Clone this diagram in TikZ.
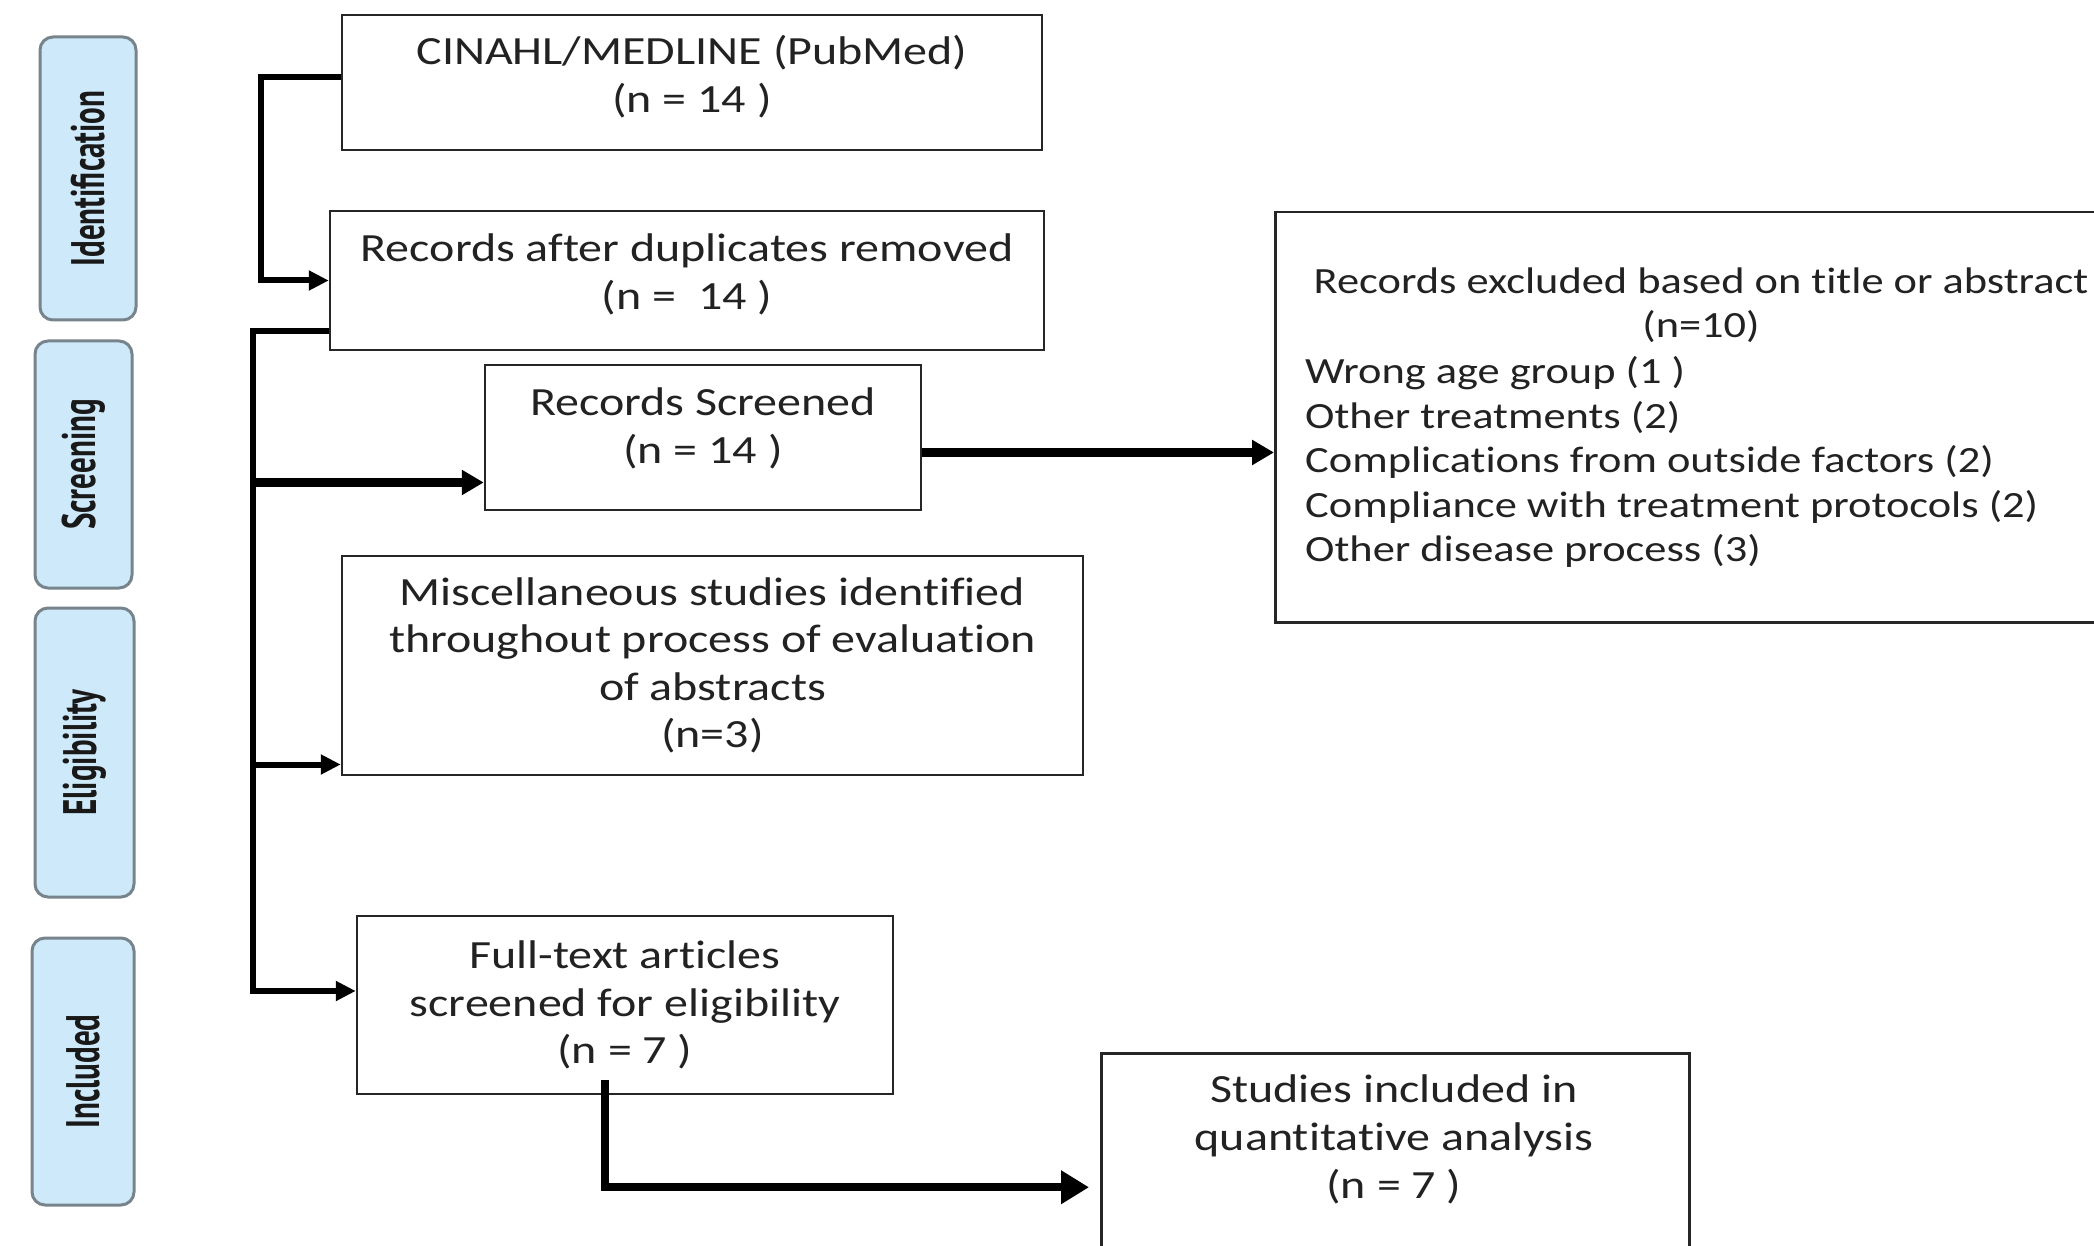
\documentclass[tikz,border=0pt]{standalone}
\usepackage{fontspec}
\setmainfont{Carlito}[FakeStretch=1.2, Ligatures=NoCommon]
\newfontfamily\sidefont{PT Sans}[FakeStretch=0.66]
\usetikzlibrary{arrows.meta,calc}
\definecolor{sidefill}{RGB}{206,234,250}
\definecolor{sidedraw}{RGB}{120,132,140}
\definecolor{txtcol}{RGB}{34,34,34}
\tikzset{
  mainbox/.style={draw=black!85, line width=2.5pt, rectangle, align=center, text=txtcol,
    font=\fontsize{40}{47.5}\selectfont, inner sep=0pt},
  sidebox/.style={draw=sidedraw, fill=sidefill, line width=3pt, rounded corners=13pt,
    rectangle, inner sep=0pt},
  sidelabel/.style={rotate=90, font=\sidefont\bfseries\fontsize{47}{50}\selectfont, text=black!90},
  conn/.style={line width=6pt, black, -{Triangle[length=20pt,width=19pt]}},
  thickconn/.style={line width=9.5pt, black, -{Triangle[length=22pt,width=24pt]}},
  bigconn/.style={line width=8pt, black, -{Triangle[length=28pt,width=32pt]}, shorten >=11pt},
  txt/.style={text=txtcol, font=\fontsize{37}{44.5}\selectfont, inner sep=0pt},
  bigtxt/.style={text=txtcol, font=\fontsize{40}{48}\selectfont, inner sep=0pt}
}
\begin{document}
\begin{tikzpicture}[x=1pt,y=-1pt]
\useasboundingbox (0,0) rectangle (2094,1246);
\fill[white] (0,0) rectangle (2094,1246);

% side stage boxes
\node[sidebox, minimum width=96pt, minimum height=283pt] (ident) at (88,178.5) {};
\node[sidelabel] (identL) at (ident.center) {Identification};
\node[sidebox, minimum width=97pt, minimum height=247pt] (screen) at (83.5,464.5) {};
\node[sidelabel] (screenL) at (screen.center) {Screening};
\node[sidebox, minimum width=99pt, minimum height=289pt] (elig) at (84.5,752.5) {};
\node[sidelabel] (eligL) at (elig.center) {Eligibility};
\node[sidebox, minimum width=102pt, minimum height=267pt] (incl) at (83,1071.5) {};
\node[sidelabel] (inclL) at (incl.center) {Included};

% main boxes
\node[mainbox, minimum width=700pt, minimum height=135pt] (cin) at (692,82.5) {};
\node[bigtxt, align=center] (cinT) at (692,77) {CINAHL/MEDLINE (PubMed)\\(n = 14 )};
\node[mainbox, minimum width=714pt, minimum height=139pt] (dup) at (687,280.5) {};
\node[bigtxt, align=center] (dupT) at (687,274) {Records after duplicates removed\\(n = \ 14 )};
\node[mainbox, minimum width=436pt, minimum height=145pt] (scr) at (703,437.5) {};
\node[bigtxt, align=center] (scrT) at (703,428) {Records Screened\\(n = 14 )};
\node[mainbox, minimum width=741pt, minimum height=219pt] (misc) at (712.5,665.5)
  {Miscellaneous studies identified\\throughout process of evaluation\\of abstracts\\(n=3)};
\node[mainbox, minimum width=536pt, minimum height=178pt] (full) at (625,1005)
  {Full-text articles\\screened for eligibility\\(n = 7 )};
\node[mainbox, minimum width=588pt, minimum height=248pt, anchor=north west] (stud) at (1100,1052) {};
\node[bigtxt, align=center] (studT) at (1394,1139) {Studies included in\\quantitative analysis\\(n = 7 )};
\node[mainbox, minimum width=856pt, minimum height=410pt, anchor=north west] (excl) at (1274,211) {};
\node[txt, align=center] (exclT) at (1701,305) {Records excluded based on title or abstract\\(n=10)};
\node[txt, align=left, anchor=west] (exclL) at (1305,462)
  {Wrong age group (1 )\\Other treatments (2)\\Complications from outside factors (2)\\Compliance with treatment protocols (2)\\Other disease process (3)};

% connectors
\draw[conn] ([yshift=5pt]cin.west) -| ([xshift=-68pt]dup.west) -- (dup.west);
\draw[conn] ([yshift=20pt]dup.south west) -| ([xshift=-103pt,yshift=14pt]full.west) -- ([yshift=14pt]full.west);
\draw[thickconn] ([xshift=-233pt,yshift=-45pt]scr.west) -- ([yshift=-45pt]scr.west);
\draw[conn] ([xshift=-90pt,yshift=-99pt]misc.west) -- ([yshift=-99pt]misc.west);
\draw[thickconn] ([yshift=-15pt]scr.east) -- ([yshift=-15pt]scr.east -| excl.west);
\draw[bigconn] ([xshift=-20pt,yshift=15pt]full.south) |- ([yshift=-10pt]stud.west);
\end{tikzpicture}
\end{document}
